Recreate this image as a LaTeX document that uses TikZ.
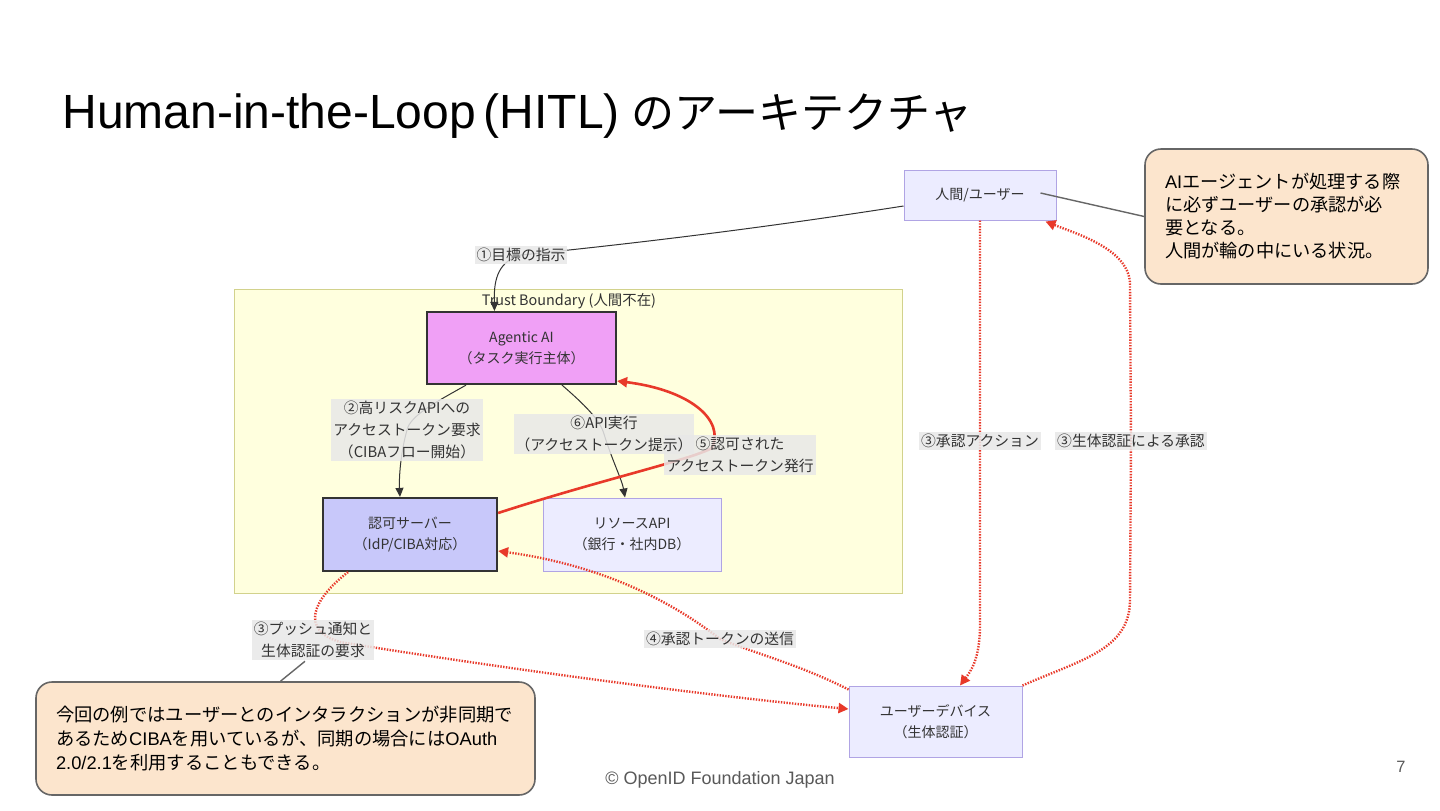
\documentclass[tikz,border=0pt]{standalone}
\usepackage{fontspec}
\setmainfont{Noto Sans CJK JP}
\newfontfamily\lat{Liberation Sans}
\usetikzlibrary{arrows.meta,calc}
\definecolor{agfill}{HTML}{F0A0F6}
\definecolor{aufill}{HTML}{C8C8FA}
\definecolor{lvfill}{HTML}{ECECFF}
\definecolor{lvline}{HTML}{B0A4E4}
\definecolor{tbfill}{HTML}{FFFFDE}
\definecolor{tbline}{HTML}{D2D28C}
\definecolor{cofill}{HTML}{FCE5CD}
\definecolor{coline}{HTML}{666666}
\definecolor{redE}{HTML}{E8392A}
\definecolor{txt}{HTML}{333333}
\definecolor{lbl}{HTML}{E8E8E8}
\tikzset{
  box/.style={draw=lvline, fill=lvfill, line width=0.5pt, align=center, text=txt,
    font=\fontsize{7}{10.5}\selectfont, inner sep=0pt},
  strongbox/.style={box, draw=txt, line width=1.1pt},
  callout/.style={draw=coline, fill=cofill, line width=0.8pt, rounded corners=8pt,
    align=left, text=black, inner sep=0pt},
  elabel/.style={fill=lbl, fill opacity=0.85, text opacity=1, text=txt, align=center,
    font=\fontsize{7.4}{11}\selectfont, inner xsep=1pt, inner ysep=1pt},
  blackedge/.style={draw=txt, line width=0.5pt, -{Triangle[width=4pt,length=4.5pt]}},
  redsolid/.style={draw=redE, line width=1.3pt, -{Triangle[width=5pt,length=5pt]}},
  reddot/.style={draw=redE, line width=1.2pt, dash pattern=on 0.7pt off 0.7pt,
    -{Triangle[width=5pt,length=5pt]}},
  plainline/.style={draw=coline, line width=0.7pt}
}
\begin{document}
\begin{tikzpicture}[x=0.5pt, y=-0.5pt]
\useasboundingbox (0,0) rectangle (1440,810);
\fill[white] (0,0) rectangle (1440,810);

% title
\node[anchor=west, inner sep=0pt, font=\fontsize{21.5}{28}\selectfont] (title) at (62,116)
  {{\lat\fontsize{24}{28}\selectfont Human-in-the-Loop\hspace{4pt}(HITL)}\hspace{6pt}のアーキテクチャ};

% trust boundary
\node[draw=tbline, fill=tbfill, line width=0.5pt, minimum width=334pt, minimum height=152pt, inner sep=0pt] (tb) at (568,441) {};
\node[text=txt, font=\fontsize{7.2}{8}\selectfont, inner sep=0pt] (tbl) at (569,301) {Trust Boundary (人間不在)};

% nodes
\node[box, minimum width=76pt, minimum height=25pt] (human) at (980,195) {人間/ユーザー};
\node[strongbox, fill=agfill, minimum width=94.5pt, minimum height=36pt] (agentic) at (521.5,348) {Agentic AI\\（タスク実行主体）};
\node[strongbox, fill=aufill, minimum width=87pt, minimum height=36.5pt] (auth) at (410,534.5) {認可サーバー\\（IdP/CIBA対応）};
\node[box, minimum width=89pt, minimum height=36.5pt] (res) at (632,534.5) {リソースAPI\\（銀行・社内DB）};
\node[box, minimum width=86.5pt, minimum height=35.5pt] (device) at (935.5,721.5) {ユーザーデバイス\\（生体認証）};

% callouts
\node[callout, minimum width=141.5pt, minimum height=67.5pt, text width=121.5pt, font=\fontsize{9.1}{11.5}\selectfont] (callR) at (1286.5,216.5)
  {{\lat AI}エージェントが処理する際\\に必ずユーザーの承認が必\\要となる。\\人間が輪の中にいる状況。};
\node[callout, minimum width=249.5pt, minimum height=56.5pt, text width=229.5pt, font=\fontsize{9.15}{12}\selectfont] (callL) at (285.5,738.5)
  {今回の例ではユーザーとのインタラクションが非同期で\\あるため{\lat CIBA}を用いているが、同期の場合には{\lat OAuth}\\{\lat 2.0/2.1}を利用することもできる。};

% label anchor coordinates
\coordinate (c1) at (521,255);
\coordinate (c2) at (407,430);
\coordinate (c6) at (604,434);
\coordinate (c5) at (712,448);
\coordinate (c3p) at (340,642);
\coordinate (c4) at (720,639);
\coordinate (c3a) at (980,441);
\coordinate (c3b) at (1131,441);

% edges
\draw[blackedge] ($(human.west)+(0,11)$) .. controls (750,230) and (620,245) .. (c1)
   .. controls (495,262) and (494,285) .. ($(agentic.north)+(-27,0)$);
\draw[blackedge] ($(agentic.south)+(-55.5,0)$) .. controls (440,400) and (410,415) .. (c2)
   .. controls (400,455) and (399,480) .. ($(auth.north)+(-10,0)$);
\draw[blackedge] ($(agentic.south)+(40.5,0)$) .. controls (585,405) and (600,420) .. (c6)
   .. controls (612,460) and (622,480) .. ($(res.north)+(-7,0)$);
\draw[redsolid] ($(auth.east)+(0,-21.5)$) .. controls (600,480) and (690,460) .. (c5)
   .. controls (725,420) and (690,390) .. ($(agentic.east)+(0,33)$);
\draw[reddot] ($(auth.south)+(-62,0)$) .. controls (312,600) and (300,630) .. (c3p)
   .. controls (500,668) and (700,695) .. ($(device.west)+(0,-12.5)$);
\draw[reddot] ($(device.north west)+(0,4)$) .. controls (800,665) and (760,655) .. (c4)
   .. controls (670,600) and (600,565) .. ($(auth.east)+(0,16.5)$);
\draw[reddot] (human.south) -- (c3a) -- (980,625) .. controls (980,660) and (970,672) .. ($(device.north)+(24.5,0)$);
\draw[reddot] (device.north east) .. controls (1080,660) and (1130,650) .. (1130,600)
   -- (c3b) -- (1130,285) .. controls (1130,250) and (1080,235) .. ($(human.south east)+(-11,1)$);

% edge labels
\node[elabel] (l1) at (c1) {①目標の指示};
\node[elabel] (l2) at (c2) {②高リスクAPIへの\\アクセストークン要求\\（CIBAフロー開始）};
\node[elabel] (l5) at (740,455) {⑤認可された\\アクセストークン発行};
\node[elabel] (l6) at (c6) {⑥API実行\\（アクセストークン提示）};
\node[elabel] (l3p) at (313,640) {③プッシュ通知と\\生体認証の要求};
\node[elabel] (l4) at (c4) {④承認トークンの送信};
\node[elabel] (l3a) at (c3a) {③承認アクション};
\node[elabel] (l3b) at (c3b) {③生体認証による承認};

% callout connectors
\draw[plainline] ($(human.east)+(-16,-2)$) -- (callR.west);
\draw[plainline] ($(callL.north)+(-5,0)$) -- ($(l3p.south)+(-8,1)$);

% footer
\node[text=black!65, font=\lat\fontsize{9}{10}\selectfont, inner sep=0pt] (foot) at (720,780) {© OpenID Foundation Japan};
\node[text=black!65, font=\lat\fontsize{8.2}{10}\selectfont, inner sep=0pt] (pnum) at (1401,767) {7};
\end{tikzpicture}
\end{document}
